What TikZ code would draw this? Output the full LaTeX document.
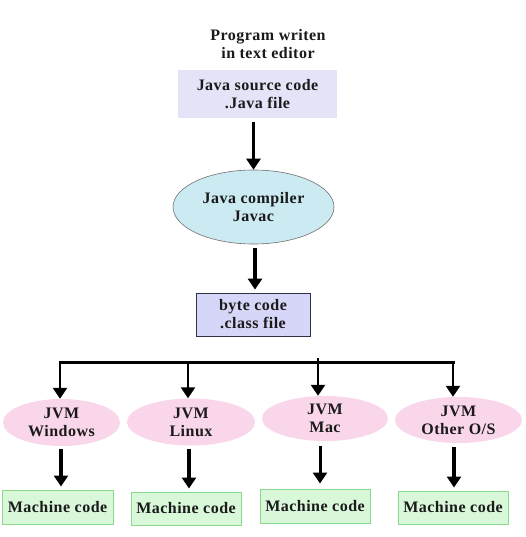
\documentclass[tikz,border=0pt]{standalone}
\usepackage{fontspec}
\setmainfont{Liberation Serif}[LetterSpace=3]
\usetikzlibrary{shapes.geometric,arrows.meta}
\definecolor{srcfill}{HTML}{E4E4F8}
\definecolor{compfill}{HTML}{CCEAF2}
\definecolor{compline}{HTML}{707070}
\definecolor{bytefill}{HTML}{D6D6F8}
\definecolor{byteline}{HTML}{303048}
\definecolor{jvmfill}{HTML}{F9D6EA}
\definecolor{mcfill}{HTML}{D9F7D9}
\definecolor{mcline}{HTML}{8AD88A}
\definecolor{txt}{HTML}{1A1A1A}
\tikzset{
  lbl/.style={font=\bfseries\fontsize{16}{18}\selectfont, text=txt, align=center, inner sep=0pt},
  srcbox/.style={lbl, rectangle, fill=srcfill, minimum width=159pt, minimum height=48pt},
  compell/.style={lbl, ellipse, fill=compfill, draw=compline, line width=0.6pt, minimum width=161pt, minimum height=74pt},
  bytebox/.style={lbl, rectangle, fill=bytefill, draw=byteline, line width=0.8pt, minimum width=114pt, minimum height=43pt},
  jvm/.style={lbl, ellipse, fill=jvmfill, minimum height=47pt},
  mcbox/.style={lbl, rectangle, fill=mcfill, draw=mcline, line width=1pt, minimum width=110pt, minimum height=34pt},
  arr/.style={line width=3.6pt, -{Triangle[width=14pt,length=11pt]}},
  bus/.style={line width=3pt},
}
\begin{document}
\begin{tikzpicture}[x=1pt,y=-1pt]
\useasboundingbox (0,0) rectangle (525,537);
\fill[white] (0,0) rectangle (525,537);
\node[lbl] (title) at (268,44) {Program writen\\in text editor};
\node[srcbox] (src) at (257.5,94) {Java source code\\.Java file};
\node[compell] (comp) at (253.5,207) {Java compiler\\Javac};
\node[bytebox] (byte) at (253,314.5) {byte code\\.class file};
\node[jvm, minimum width=117pt] (win) at (61.5,422.5) {JVM\\Windows};
\node[jvm, minimum width=128pt] (lin) at (191,422) {JVM\\Linux};
\node[jvm, minimum width=126pt, minimum height=45pt] (mac) at (325,418.5) {JVM\\Mac};
\node[jvm, minimum width=127pt, minimum height=46pt] (oth) at (458.5,420) {JVM\\Other O/S};
\node[mcbox, minimum width=111pt] (m1) at (57.5,507) {Machine code};
\node[mcbox, minimum height=33pt] (m2) at (186,508.5) {Machine code};
\node[mcbox] (m3) at (315,506) {Machine code};
\node[mcbox, minimum height=33pt] (m4) at (453,507.5) {Machine code};
\coordinate (b1) at (60,362);
\coordinate (b2) at (188,362);
\coordinate (b3) at (318,358);
\coordinate (b4) at (453,362);
\draw[arr, shorten <=4pt] (src.south -| comp.north) -- (comp.north);
\draw[arr, shorten <=4pt, shorten >=3pt] ([xshift=1.5pt]comp.south) -- ([xshift=1.5pt]comp.south |- byte.north);
\draw[bus] ([xshift=-1.5pt]b1) -- ([xshift=1.5pt]b4 |- b1);
\draw[arr, line width=2.6pt] (b1) -- (b1 |- win.north);
\draw[arr, line width=2.6pt] (b2) -- (b2 |- lin.north);
\draw[arr, line width=2.6pt] (b3) -- (b3 |- mac.north);
\draw[arr, line width=2.6pt] (b4) -- (b4 |- oth.north);
\draw[arr, shorten <=3pt, shorten >=3pt] ([xshift=-0.5pt]win.south) -- ([xshift=-0.5pt]win.south |- m1.north);
\draw[arr, shorten <=3pt, shorten >=3pt] ([xshift=-2pt]lin.south) -- ([xshift=-2pt]lin.south |- m2.north);
\draw[arr, line width=3pt, shorten <=5pt, shorten >=5pt] ([xshift=-5pt]mac.south) -- ([xshift=-5pt]mac.south |- m3.north);
\draw[arr, shorten <=4pt, shorten >=3pt] ([xshift=-4.5pt]oth.south) -- ([xshift=-4.5pt]oth.south |- m4.north);
\end{tikzpicture}
\end{document}
